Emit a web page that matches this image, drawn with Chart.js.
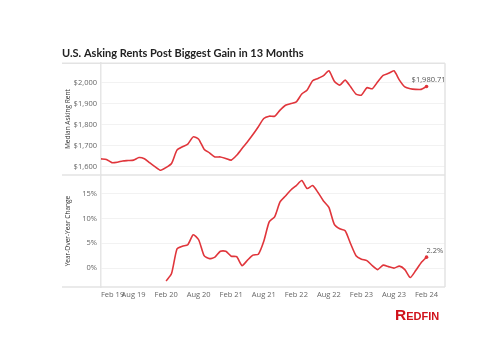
<!DOCTYPE html>
<html>
<head>
<meta charset="utf-8">
<script src="https://cdn.jsdelivr.net/npm/chart.js@4.4.1/dist/chart.umd.min.js"></script>
<style>
  body { margin: 0; background: #fff; }
  #wrap { position: relative; width: 500px; height: 364px; }
  #logo {
    position: absolute; left: 395px; top: 306px;
    font-family: "Liberation Sans", sans-serif; font-weight: bold;
    font-size: 15.5px; color: #d0121b; font-variant: small-caps;
  }
</style>
</head>
<body>
<div id="wrap">
  <canvas id="js_rent_chart" width="500" height="364"></canvas>
  <div id="logo">Redfin</div>
</div>
<script>
// months run Feb 19 (index 0) to Feb 24 (index 60)
const xTickMonths = [0, 6, 12, 18, 24, 30, 36, 42, 48, 54, 60]
const xTickLabels = ['Feb 19', 'Aug 19', 'Feb 20', 'Aug 20', 'Feb 21', 'Aug 21', 'Feb 22', 'Aug 22', 'Feb 23', 'Aug 23', 'Feb 24']

const rentTicks = [1600, 1700, 1800, 1900, 2000]
const yoyTicks = [0, 5, 10, 15]

// median asking rent, monthly
const medianRent = [
  1638, 1635, 1620, 1622, 1628, 1630, 1632, 1644, 1638, 1619, 1600, 1584,
  1597, 1616, 1679, 1695, 1708, 1742, 1731, 1684, 1666, 1647, 1647, 1640,
  1632, 1655, 1687, 1719, 1753, 1790, 1829, 1840, 1840, 1869, 1892, 1900,
  1908, 1945, 1964, 2008, 2019, 2032, 2055, 2006, 1987, 2011, 1979, 1945,
  1940, 1975, 1970, 2003, 2033, 2043, 2055, 2011, 1979, 1970, 1967, 1967,
  1980.71
]

// year-over-year change (%), starts Feb 20
const yoyChange = [
  null, null, null, null, null, null, null, null, null, null, null, null,
  -2.6, -1.1, 3.85, 4.4, 4.7, 6.7, 5.7, 2.5, 1.9, 2.2, 3.4, 3.4,
  2.4, 2.3, 0.5, 1.6, 2.6, 2.8, 5.4, 9.3, 10.3, 13.3, 14.5, 15.7,
  16.6, 17.6, 16.0, 16.6, 15.2, 13.5, 12.2, 8.8, 7.9, 7.5, 4.9, 2.5,
  1.8, 1.5, 0.5, -0.3, 0.6, 0.3, 0, 0.4, -0.3, -1.9, -0.5, 1.1,
  2.2
]

const lineRed = '#e0353b'
const tickFont = { family: 'Open Sans', size: 7.5 }
const lastOnly = (n) => (c) => (c.dataIndex === n - 1 ? 1.8 : 0)

// frame lines round both panels, like the tableau box
const framePlugin = {
  id: 'frame',
  beforeDatasetsDraw(chart) {
    const { ctx, chartArea } = chart
    const split = chart.scales.yRent.bottom
    ctx.save()
    ctx.strokeStyle = '#e3e3e3'
    ctx.lineWidth = 1.5
    ctx.beginPath()
    ;[chartArea.top, split, chartArea.bottom].forEach(y => {
      ctx.moveTo(62, y)
      ctx.lineTo(chartArea.right, y)
    })
    ctx.moveTo(chartArea.right, chartArea.top)
    ctx.lineTo(chartArea.right, chartArea.bottom)
    ctx.stroke()
    ctx.restore()
  }
}

// value label beside the last point of each line
const lastLabelPlugin = {
  id: 'lastLabel',
  afterDatasetsDraw(chart) {
    const { ctx } = chart
    ctx.save()
    ctx.font = '7.5px "Open Sans"'
    ctx.fillStyle = '#555'
    ctx.textBaseline = 'bottom'
    chart.data.datasets.forEach((ds, i) => {
      const last = ds.data.length - 1
      const pt = chart.getDatasetMeta(i).data[last]
      const v = ds.data[last].y
      const txt = i === 0
        ? '$' + v.toLocaleString('en-US', { minimumFractionDigits: 2 })
        : v.toFixed(1) + '%'
      ctx.textAlign = i === 0 ? 'center' : 'left'
      ctx.fillText(txt, pt.x + (i === 0 ? 2 : 0), pt.y - 3)
    })
    ctx.restore()
  }
}

function rentChart() {
  const data = {
    datasets: [
      {
        label: 'Median Asking Rent',
        data: medianRent.map((v, i) => ({ x: i, y: v })),
        yAxisID: 'yRent',
        borderColor: lineRed,
        backgroundColor: lineRed,
        borderWidth: 1.6,
        tension: 0.2,
        pointRadius: lastOnly(medianRent.length),
        pointBorderWidth: 0,
        pointHoverRadius: 0,
      },
      {
        label: 'Year-Over-Year Change',
        data: yoyChange.map((v, i) => ({ x: i, y: v })),
        yAxisID: 'yYoy',
        borderColor: lineRed,
        backgroundColor: lineRed,
        borderWidth: 1.6,
        tension: 0.2,
        spanGaps: false,
        pointRadius: lastOnly(yoyChange.length),
        pointBorderWidth: 0,
        pointHoverRadius: 0,
      }
    ]
  }

  const yCommon = {
    type: 'linear',
    position: 'left',
    stack: 'panels',
    stackWeight: 1,
    grid: { color: '#f2f2f2', drawTicks: false },
    border: { display: true, color: '#e6e6e6', width: 1.5 },
    afterFit(scale) { scale.width = 39 },
  }

  const options = {
    responsive: false,
    animation: false,
    layout: { padding: { left: 62, right: 55, top: 44, bottom: 61 } },
    plugins: {
      legend: { display: false },
      tooltip: { enabled: false },
      title: {
        display: true,
        text: 'U.S. Asking Rents Post Biggest Gain in 13 Months',
        align: 'start',
        color: '#222',
        font: { family: 'Lato', size: 11, weight: 'bold' },
        padding: { top: 3, bottom: 3 },
      }
    },
    scales: {
      x: {
        type: 'linear',
        min: 0,
        max: 63.4,
        grid: { display: false, drawTicks: false },
        border: { display: false },
        afterBuildTicks(scale) {
          scale.ticks = xTickMonths.map(v => ({ value: v })).concat([{ value: 63.4 }])
        },
        afterFit(scale) { scale.height = 16 },
        ticks: {
          align: 'inner',
          maxRotation: 0,
          autoSkip: false,
          padding: 3,
          color: '#666',
          font: tickFont,
          callback: (v) => {
            const k = xTickMonths.indexOf(v)
            return k >= 0 ? xTickLabels[k] : ''
          }
        }
      },
      // stacked axes: the first one listed sits at the bottom
      yYoy: {
        ...yCommon,
        min: -3.8,
        max: 18.7,
        afterBuildTicks(scale) { scale.ticks = yoyTicks.map(v => ({ value: v })) },
        ticks: {
          padding: 4,
          color: '#666',
          font: tickFont,
          callback: (v) => v + '%'
        },
        title: {
          display: true,
          text: 'Year-Over-Year Change',
          color: '#333',
          font: { family: 'Open Sans', size: 6.5 },
          padding: { top: 2, bottom: 0 },
        }
      },
      yRent: {
        ...yCommon,
        min: 1561,
        max: 2091,
        afterBuildTicks(scale) { scale.ticks = rentTicks.map(v => ({ value: v })) },
        ticks: {
          padding: 4,
          color: '#666',
          font: tickFont,
          callback: (v) => '$' + v.toLocaleString('en-US')
        },
        title: {
          display: true,
          text: 'Median Asking Rent',
          color: '#333',
          font: { family: 'Open Sans', size: 6.5 },
          padding: { top: 2, bottom: 0 },
        }
      }
    }
  }

  const ctx = document.getElementById('js_rent_chart').getContext('2d')
  new Chart(ctx, { type: 'line', data, options, plugins: [framePlugin, lastLabelPlugin] })
}

rentChart()
</script>
</body>
</html>
